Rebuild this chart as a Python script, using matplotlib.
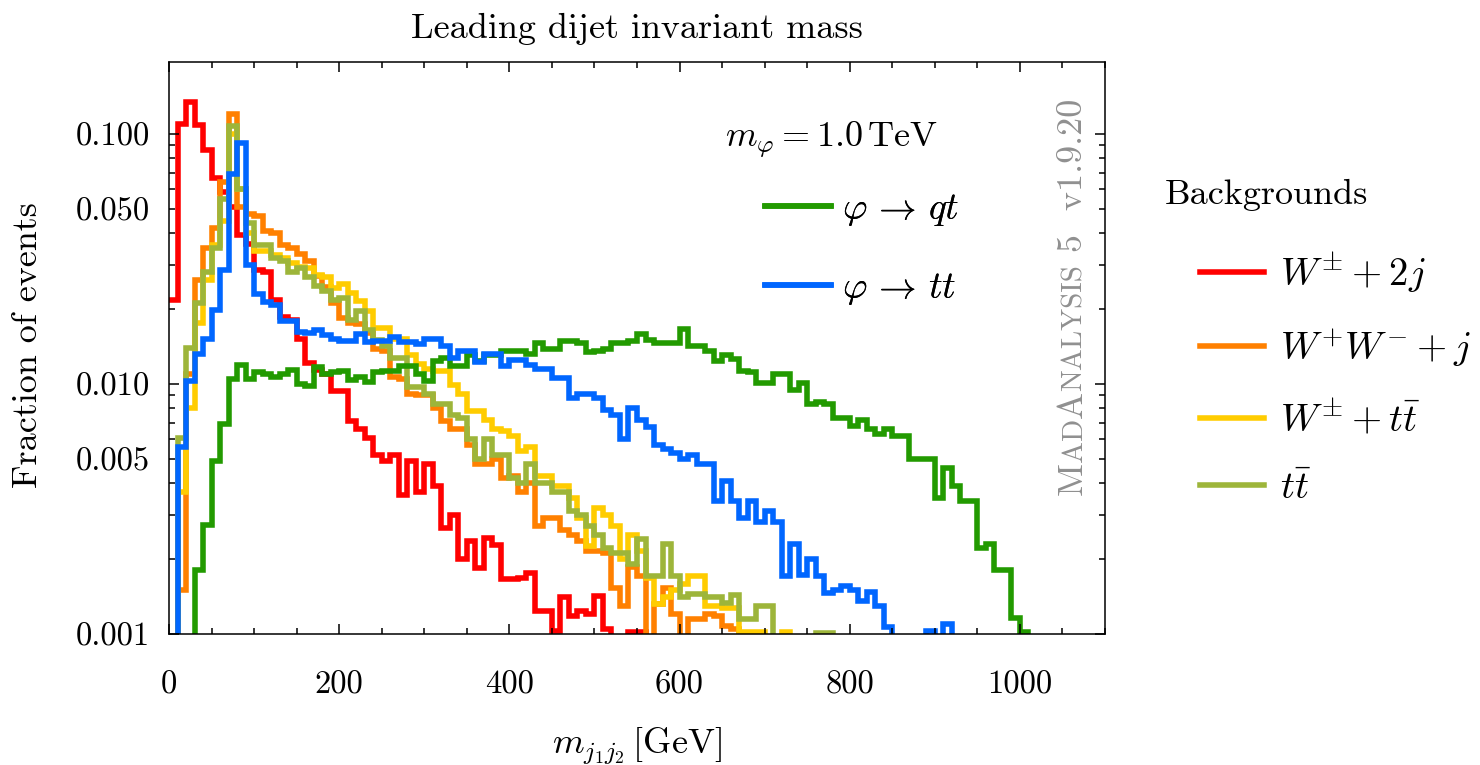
import numpy as np
import matplotlib
matplotlib.use("Agg")
import matplotlib.pyplot as plt
from matplotlib.lines import Line2D
from matplotlib.ticker import MultipleLocator, FixedLocator, FixedFormatter, LogLocator, FuncFormatter

plt.rcParams['font.family'] = 'serif'
plt.rcParams['font.serif'] = ['cmr10']
plt.rcParams['mathtext.fontset'] = 'cm'
plt.rcParams['axes.formatter.use_mathtext'] = True

# 10 GeV bins, 0 - 1100 GeV; fraction of events per bin
edges = np.arange(0, 1110, 10)

w_2j = [0.0217, 0.110, 0.134, 0.109, 0.0865, 0.0668, 0.0588, 0.0508, 0.0393, 0.0362,
        0.0285, 0.0280, 0.0217, 0.0185, 0.0180, 0.0152, 0.0121, 0.0114, 0.0110, 0.0094,
        0.0094, 0.0071, 0.0066, 0.0061, 0.0052, 0.0049, 0.0052, 0.0036, 0.0049, 0.0037,
        0.0048, 0.0039, 0.00266, 0.0030, 0.0020, 0.00236, 0.00184, 0.00243, 0.00228, 0.00166,
        0.00166, 0.00168, 0.00176, 0.00124, 0.00124, 0.00103, 0.0014, 0.00118, 0.00124, 0.0012,
        0.00142, 0.00105, 0, 0, 0.00102, 0.00102]

ww_j = [0, 0.0015, 0.011, 0.026, 0.035, 0.042, 0.064, 0.120, 0.051, 0.048,
        0.047, 0.041, 0.040, 0.036, 0.035, 0.033, 0.031, 0.027, 0.0245, 0.021,
        0.0184, 0.0175, 0.0173, 0.016, 0.0138, 0.0136, 0.0107, 0.0105, 0.0091, 0.0090,
        0.0090, 0.0080, 0.0071, 0.0066, 0.0066, 0.0057, 0.0048, 0.0048, 0.0050, 0.0042,
        0.0043, 0.0037, 0.0040, 0.0027, 0.0029, 0.0029, 0.0026, 0.0025, 0.00236, 0.00215,
        0.00215, 0.0021, 0.00153, 0.0013, 0.00185, 0.0017, 0, 0.00132, 0.00153, 0.0012,
        0, 0.00115, 0.00115, 0.0012, 0.00118, 0.00108, 0.00105]

w_tt = [0, 0.0037, 0.0080, 0.0175, 0.026, 0.036, 0.045, 0.100, 0.060, 0.040,
        0.034, 0.034, 0.0329, 0.032, 0.0304, 0.0294, 0.029, 0.0272, 0.0267, 0.0243,
        0.0251, 0.0232, 0.0215, 0.0196, 0.0168, 0.0168, 0.0151, 0.0151, 0.0131, 0.0120,
        0.0115, 0.0113, 0.0113, 0.0099, 0.0091, 0.0078, 0.0078, 0.0072, 0.0066, 0.0065,
        0.0062, 0.0054, 0.0056, 0.0043, 0.0043, 0.0039, 0.0039, 0.0035, 0.0029, 0.00225,
        0.0032, 0.0030, 0.0027, 0.0020, 0.0025, 0.00215, 0.00168, 0.00132, 0.0014, 0.0015,
        0.00158, 0.0017, 0.0017, 0.0013, 0.0013, 0.00127, 0.00127, 0.00102, 0.00102, 0.00102,
        0, 0, 0.00102]

tt = [0, 0.0061, 0.0139, 0.021, 0.028, 0.035, 0.055, 0.108, 0.060, 0.044,
      0.036, 0.036, 0.0318, 0.031, 0.028, 0.029, 0.0267, 0.0247, 0.0235, 0.0217,
      0.0221, 0.0181, 0.0196, 0.0165, 0.015, 0.0142, 0.0127, 0.0127, 0.0097, 0.0097,
      0.0091, 0.0083, 0.0083, 0.0075, 0.0073, 0.0060, 0.0050, 0.0060, 0.0052, 0.0052,
      0.0042, 0.0040, 0.0048, 0.0040, 0.0040, 0.0037, 0.0037, 0.0031, 0.0030, 0.0027,
      0.0025, 0.0022, 0.0021, 0.0021, 0.0019, 0.0024, 0.0017, 0.0017, 0.0023, 0.0017,
      0.0014, 0.00145, 0.00145, 0.0014, 0.0014, 0.00133, 0.00143, 0.00115, 0.00115, 0.0013,
      0.0013, 0, 0, 0, 0, 0, 0.00101, 0.00101]

phi_tt = [0, 0.0056, 0.0103, 0.0132, 0.0152, 0.0197, 0.0285, 0.069, 0.092, 0.030,
          0.0228, 0.0213, 0.0207, 0.0179, 0.0179, 0.0162, 0.016, 0.0165, 0.0157, 0.0152,
          0.0149, 0.0149, 0.0158, 0.0147, 0.0149, 0.0149, 0.0154, 0.0147, 0.0147, 0.0144,
          0.0152, 0.0152, 0.0142, 0.0127, 0.0136, 0.0136, 0.0123, 0.0132, 0.0132, 0.0118,
          0.0125, 0.0125, 0.0119, 0.0115, 0.0115, 0.0106, 0.0106, 0.0088, 0.0091, 0.0091,
          0.0088, 0.0079, 0.0075, 0.0060, 0.0080, 0.0072, 0.0067, 0.0057, 0.0055, 0.0053,
          0.0050, 0.0052, 0.0048, 0.0048, 0.0034, 0.0041, 0.0034, 0.0029, 0.0034, 0.0028,
          0.0031, 0.0028, 0.0017, 0.0023, 0.00172, 0.0020, 0.0017, 0.00146, 0.0015, 0.00155,
          0.0015, 0.00136, 0.00147, 0.0013, 0.00107, 0, 0, 0, 0, 0.00103,
          0, 0.0011]

phi_qt = [0, 0, 0, 0.0018, 0.00272, 0.00492, 0.0069, 0.0105, 0.0119, 0.0105,
          0.0112, 0.0110, 0.0107, 0.0110, 0.0114, 0.0100, 0.0098, 0.0117, 0.0110, 0.0112,
          0.0113, 0.0104, 0.0107, 0.0102, 0.0112, 0.0113, 0.0113, 0.0118, 0.0118, 0.0110,
          0.0103, 0.0124, 0.0127, 0.0118, 0.0118, 0.0131, 0.0124, 0.0130, 0.0130, 0.0136,
          0.0136, 0.0136, 0.0132, 0.0146, 0.0138, 0.0138, 0.0148, 0.0148, 0.0146, 0.0134,
          0.0136, 0.0138, 0.0146, 0.0146, 0.0148, 0.0158, 0.0150, 0.0146, 0.0146, 0.0146,
          0.0166, 0.0142, 0.0142, 0.0136, 0.0124, 0.0130, 0.0126, 0.0113, 0.0112, 0.0101,
          0.0101, 0.0110, 0.0110, 0.0095, 0.0101, 0.0083, 0.0085, 0.0083, 0.0073, 0.0073,
          0.0068, 0.0072, 0.0066, 0.0063, 0.0066, 0.0062, 0.0062, 0.0050, 0.0050, 0.0050,
          0.0035, 0.0046, 0.0039, 0.0034, 0.0034, 0.0022, 0.0023, 0.0018, 0.0018, 0.00116,
          0.00102]

bkg_labels = [r'$W^{\pm} + 2j$', r'$W^{+}W^{-} + j$', r'$W^{\pm} + t\bar{t}$', r'$t\bar{t}$']
bkg_colors = ['#ff0000', '#ff8000', '#ffcc00', '#9db53a']
sig_labels = [r'$\varphi\,\to\,qt$', r'$\varphi\,\to\,tt$']
sig_colors = ['#229a00', '#0066ff']


def bins(vals):
    v = np.zeros(len(edges) - 1)
    v[:len(vals)] = vals
    # empty bins go far below the axis so the step drops out of view
    return np.where(v > 0, v, 1e-7)


W, H = 1480, 765
fig = plt.figure(figsize=(W / 100, H / 100), dpi=100)
ax = fig.add_axes([169 / W, 1 - 634 / H, 936 / W, 572 / H])

lw = 4.0
for vals, col in zip([w_2j, ww_j, w_tt, tt], bkg_colors):
    ax.stairs(bins(vals), edges, baseline=None, color=col, lw=lw)
for vals, col in zip([phi_qt, phi_tt], sig_colors):
    ax.stairs(bins(vals), edges, baseline=None, color=col, lw=lw)

ax.set_yscale('log')
ax.set_xlim(0, 1100)
ax.set_ylim(0.001, 0.194)

ax.xaxis.set_major_locator(MultipleLocator(200))
ax.xaxis.set_minor_locator(MultipleLocator(50))
ax.xaxis.set_major_formatter(FuncFormatter(lambda v, p: f'{v:.0f}'))

ax.yaxis.set_major_locator(FixedLocator([0.001, 0.01, 0.1]))
ax.yaxis.set_major_formatter(FixedFormatter(['0.001', '0.010', '0.100']))
ax.yaxis.set_minor_locator(LogLocator(base=10, subs=np.arange(2, 10)))
ax.yaxis.set_minor_formatter(FuncFormatter(
    lambda v, p: {0.005: '0.005', 0.05: '0.050'}.get(round(v, 4), '')))

ax.tick_params(which='both', direction='in', top=True, right=True, width=1.1)
ax.tick_params(which='major', length=7.5)
ax.tick_params(which='minor', length=4.5)
ax.tick_params(axis='x', which='both', labelsize=23.5, pad=26)
ax.tick_params(axis='y', which='both', labelsize=23.5, pad=14)
for s in ax.spines.values():
    s.set_linewidth(1.1)

ax.set_title('Leading dijet invariant mass', fontsize=26, pad=17)
ax.set_xlabel(r'$m_{j_1 j_2}\,[\mathrm{GeV}]$', fontsize=26)
ax.xaxis.set_label_coords(0.5, -0.16)
ax.set_ylabel('Fraction of events', fontsize=26)
ax.yaxis.set_label_coords(-0.1335, 0.505)

# signal legend inside the frame
sig_handles = [Line2D([], [], color=c, lw=lw) for c in sig_colors]
leg1 = ax.legend(sig_handles, sig_labels, loc='upper left',
                 bbox_to_anchor=(765 / W, 1 - 192 / H), bbox_transform=fig.transFigure,
                 frameon=False, fontsize=27, handlelength=1.75, handletextpad=0.3,
                 labelspacing=1.15, borderpad=0, borderaxespad=0)
ax.add_artist(leg1)
fig.text(725 / W, 1 - 140 / H, r'$m_{\varphi} = 1.0\,\mathrm{TeV}$',
         fontsize=26, ha='left', va='center')

# background legend outside the frame
bkg_handles = [Line2D([], [], color=c, lw=lw) for c in bkg_colors]
fig.legend(bkg_handles, bkg_labels, loc='upper left',
           bbox_to_anchor=(1200 / W, 1 - 250 / H), bbox_transform=fig.transFigure,
           frameon=False, fontsize=28, handlelength=1.65, handletextpad=0.4,
           labelspacing=0.8, borderpad=0, borderaxespad=0)
fig.text(1165 / W, 1 - 195 / H, 'Backgrounds', fontsize=26, ha='left', va='center')

# small-caps program tag, written upward
renderer = fig.canvas.get_renderer()
xw, yw = 1082 / W, 1 - 495 / H
for piece, size in [('M', 26), ('AD', 21), ('A', 26), ('NALYSIS', 21), (' 5  v1.9.20', 26)]:
    t = fig.text(xw, yw, piece, fontsize=size, color='#909090', rotation=90,
                 rotation_mode='anchor', ha='left', va='baseline')
    yw += t.get_window_extent(renderer).height / H

fig.savefig('out.png', dpi=100)
